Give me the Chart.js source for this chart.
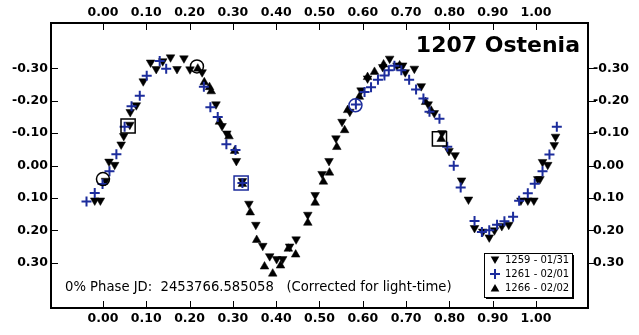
<!DOCTYPE html>
<html>
<head>
<meta charset="utf-8">
<script src="https://cdn.jsdelivr.net/npm/chart.js@4.4.1/dist/chart.umd.min.js"></script>
<style>
  body { margin: 0; background: #fff; }
  #wrap { width: 639px; height: 335px; }
</style>
</head>
<body>
<div id="wrap"><canvas id="lightCurve" width="639" height="335"></canvas></div>
<script>
// Phase / magnitude pairs, one set per night
const night1259Phase = [-0.019, -0.006, 0.006, 0.014, 0.027, 0.042, 0.048, 0.062, 0.063, 0.077, 0.093, 0.110, 0.123, 0.138, 0.156, 0.171, 0.187, 0.201, 0.229, 0.261, 0.275, 0.286, 0.308, 0.322, 0.337, 0.353, 0.369, 0.385, 0.401, 0.415, 0.431, 0.446, 0.473, 0.490, 0.506, 0.522, 0.538, 0.552, 0.570, 0.596, 0.611, 0.646, 0.662, 0.679, 0.692, 0.698, 0.719, 0.735, 0.751, 0.765, 0.783, 0.799, 0.813, 0.828, 0.844, 0.858, 0.877, 0.892, 0.904, 0.921, 0.937, 0.965, 0.981, 0.995, 1.004, 1.009, 1.015, 1.027, 1.042, 1.045];
const night1259Mag = [0.108, 0.108, 0.047, -0.012, -0.002, -0.065, -0.091, -0.126, -0.165, -0.186, -0.260, -0.318, -0.298, -0.322, -0.334, -0.298, -0.331, -0.297, -0.288, -0.189, -0.122, -0.099, -0.014, 0.048, 0.118, 0.183, 0.248, 0.280, 0.289, 0.289, 0.250, 0.228, 0.152, 0.091, 0.026, -0.014, -0.084, -0.135, -0.166, -0.232, -0.269, -0.304, -0.330, -0.309, -0.309, -0.288, -0.299, -0.245, -0.189, -0.162, -0.100, -0.045, -0.032, 0.046, 0.105, 0.193, 0.204, 0.222, 0.200, 0.187, 0.183, 0.108, 0.108, 0.108, 0.042, 0.042, -0.011, -0.002, -0.063, -0.089];

const night1261Phase = [-0.038, -0.019, -0.001, 0.015, 0.031, 0.050, 0.066, 0.085, 0.101, 0.131, 0.146, 0.233, 0.248, 0.265, 0.285, 0.306, 0.322, 0.584, 0.604, 0.619, 0.635, 0.650, 0.660, 0.673, 0.689, 0.707, 0.723, 0.740, 0.754, 0.777, 0.795, 0.810, 0.826, 0.858, 0.875, 0.892, 0.910, 0.927, 0.947, 0.961, 0.981, 0.997, 1.015, 1.031, 1.048];
const night1261Mag = [0.111, 0.085, 0.057, 0.018, -0.035, -0.120, -0.183, -0.215, -0.277, -0.323, -0.299, -0.243, -0.180, -0.150, -0.066, -0.048, 0.054, -0.188, -0.227, -0.242, -0.265, -0.278, -0.294, -0.308, -0.294, -0.265, -0.235, -0.207, -0.166, -0.144, -0.058, 0.001, 0.068, 0.171, 0.205, 0.200, 0.183, 0.172, 0.158, 0.109, 0.086, 0.056, 0.018, -0.034, -0.120];

const night1266Phase = [0.219, 0.234, 0.246, 0.250, 0.269, 0.291, 0.304, 0.322, 0.340, 0.355, 0.373, 0.392, 0.410, 0.428, 0.445, 0.473, 0.490, 0.509, 0.523, 0.540, 0.558, 0.565, 0.592, 0.611, 0.627, 0.648, 0.685, 0.745, 0.758, 0.781];
const night1266Mag = [-0.299, -0.257, -0.242, -0.229, -0.135, -0.090, -0.045, 0.057, 0.145, 0.230, 0.312, 0.334, 0.309, 0.257, 0.275, 0.177, 0.115, 0.050, 0.022, -0.057, -0.109, -0.171, -0.212, -0.273, -0.289, -0.312, -0.309, -0.196, -0.169, -0.082];

// open circles / squares marking session points
const markPhase = [0.000, 0.058, 0.217, 0.319, 0.583, 0.777];
const markMag = [0.042, -0.122, -0.306, 0.054, -0.186, -0.082];
const markShape = ['circle', 'rect', 'circle', 'rect', 'circle', 'rect'];
const markNight = [1259, 1259, 1259, 1261, 1261, 1259];

const tickPhases = [0.0, 0.1, 0.2, 0.3, 0.4, 0.5, 0.6, 0.7, 0.8, 0.9, 1.0];
const tickMags = [-0.3, -0.2, -0.1, 0.0, 0.1, 0.2, 0.3];
const legendLabels = ['1259 - 01/31', '1261 - 02/01', '1266 - 02/02'];
const titleText = '1207 Ostenia';
const footerText = '0% Phase JD:  2453766.585058   (Corrected for light-time)';

const blue = '#1c2c9c';
const axisFont = { family: 'DejaVu Sans', size: 12.5, weight: 'bold' };

function toPoints(xs, ys) {
    return xs.map((x, i) => ({ x: x, y: ys[i] }));
}

function phaseAxis(pos, h, pad) {
    return {
        type: 'linear', position: pos, min: -0.12, max: 1.12,
        grid: { display: false, drawTicks: false }, border: { display: false },
        afterBuildTicks: s => { s.ticks = tickPhases.map(v => ({ value: v })); },
        ticks: { callback: v => v.toFixed(2), font: axisFont, color: '#000', padding: pad, maxRotation: 0, autoSkip: false },
        afterFit: s => { s.height = h; }
    };
}

function magAxis(pos, pad) {
    return {
        type: 'linear', position: pos, reverse: true, min: -0.44, max: 0.44,
        grid: { display: false, drawTicks: false }, border: { display: false },
        afterBuildTicks: s => { s.ticks = tickMags.map(v => ({ value: v })); },
        ticks: { callback: v => v.toFixed(2), font: axisFont, color: '#000', padding: pad, autoSkip: false },
        afterFit: s => { s.width = 51; }
    };
}

function downTri(ctx, x, y, r) {
    ctx.beginPath();
    ctx.moveTo(x - r * 0.866, y - r / 2);
    ctx.lineTo(x + r * 0.866, y - r / 2);
    ctx.lineTo(x, y + r);
    ctx.closePath();
    ctx.fill();
}
function upTri(ctx, x, y, r) {
    ctx.beginPath();
    ctx.moveTo(x - r * 0.866, y + r / 2);
    ctx.lineTo(x + r * 0.866, y + r / 2);
    ctx.lineTo(x, y - r);
    ctx.closePath();
    ctx.fill();
}

// frame, tick marks, title, footer note and boxed legend
const decorPlugin = {
    id: 'decor',
    afterDatasetsDraw(chart) {
        const { ctx, chartArea: a, scales } = chart;
        ctx.save();
        ctx.strokeStyle = '#000';
        ctx.lineWidth = 2;
        ctx.strokeRect(a.left, a.top, a.right - a.left, a.bottom - a.top);

        ctx.lineWidth = 1;
        ctx.beginPath();
        tickPhases.forEach(v => {
            const px = Math.round(scales.x.getPixelForValue(v)) + 0.5;
            ctx.moveTo(px, a.top); ctx.lineTo(px, a.top + 7);
            ctx.moveTo(px, a.bottom); ctx.lineTo(px, a.bottom - 7);
        });
        tickMags.forEach(v => {
            const py = Math.round(scales.y.getPixelForValue(v)) + 0.5;
            ctx.moveTo(a.left, py); ctx.lineTo(a.left + 7, py);
            ctx.moveTo(a.right, py); ctx.lineTo(a.right + 8, py);
        });
        ctx.stroke();

        ctx.fillStyle = '#000';
        ctx.font = 'bold 22px "DejaVu Sans"';
        ctx.textAlign = 'right';
        ctx.textBaseline = 'alphabetic';
        ctx.fillText(titleText, 580, 52);

        ctx.font = '13.2px "DejaVu Sans"';
        ctx.textAlign = 'left';
        ctx.textBaseline = 'middle';
        ctx.fillText(footerText, 65, 288);

        // legend box with drop shadow
        const bx = 484, by = 253, bw = 88, bh = 44;
        ctx.fillStyle = '#000';
        ctx.fillRect(bx + 2, by + 2, bw, bh);
        ctx.fillStyle = '#fff';
        ctx.fillRect(bx, by, bw, bh);
        ctx.strokeRect(bx + 0.5, by + 0.5, bw, bh);
        ctx.font = '10px "DejaVu Sans"';
        legendLabels.forEach((lab, i) => {
            const ly = by + 7 + i * 14;
            const mx = bx + 11;
            ctx.fillStyle = '#000';
            if (i === 0) downTri(ctx, mx, ly - 1, 5);
            if (i === 2) upTri(ctx, mx, ly + 1, 5);
            if (i === 1) {
                ctx.strokeStyle = blue; ctx.lineWidth = 2;
                ctx.beginPath();
                ctx.moveTo(mx - 5, ly); ctx.lineTo(mx + 5, ly);
                ctx.moveTo(mx, ly - 5); ctx.lineTo(mx, ly + 5);
                ctx.stroke();
                ctx.strokeStyle = '#000'; ctx.lineWidth = 1;
            }
            ctx.fillStyle = '#000';
            ctx.fillText(lab, bx + 21, ly);
        });
        ctx.restore();
    }
};

const ctx = document.getElementById('lightCurve').getContext('2d');
const lightCurve = new Chart(ctx, {
    type: 'scatter',
    data: {
        datasets: [
            {
                label: legendLabels[0],
                data: toPoints(night1259Phase, night1259Mag),
                pointStyle: 'triangle', rotation: 180, pointRadius: 5,
                backgroundColor: '#000', borderColor: '#000', borderWidth: 0.5,
                order: 3
            },
            {
                label: legendLabels[1],
                data: toPoints(night1261Phase, night1261Mag),
                pointStyle: 'cross', pointRadius: 5,
                backgroundColor: blue, borderColor: blue, borderWidth: 2,
                order: 1
            },
            {
                label: legendLabels[2],
                data: toPoints(night1266Phase, night1266Mag),
                pointStyle: 'triangle', pointRadius: 5,
                backgroundColor: '#000', borderColor: '#000', borderWidth: 0.5,
                order: 2
            },
            {
                label: 'marks',
                data: toPoints(markPhase, markMag),
                pointStyle: markShape,
                pointRadius: markShape.map(s => s === 'rect' ? 10 : 6.5),
                backgroundColor: 'rgba(0,0,0,0)',
                borderColor: markNight.map(n => n === 1261 ? blue : '#000'),
                borderWidth: 1.5,
                order: 0
            }
        ]
    },
    options: {
        responsive: false,
        animation: false,
        events: [],
        layout: { padding: 0 },
        plugins: { legend: { display: false }, tooltip: { enabled: false } },
        scales: {
            x: phaseAxis('bottom', 27, 3),
            x2: phaseAxis('top', 23, 3),
            y: magAxis('left', 3),
            y2: magAxis('right', 5)
        }
    },
    plugins: [decorPlugin]
});
</script>
</body>
</html>
